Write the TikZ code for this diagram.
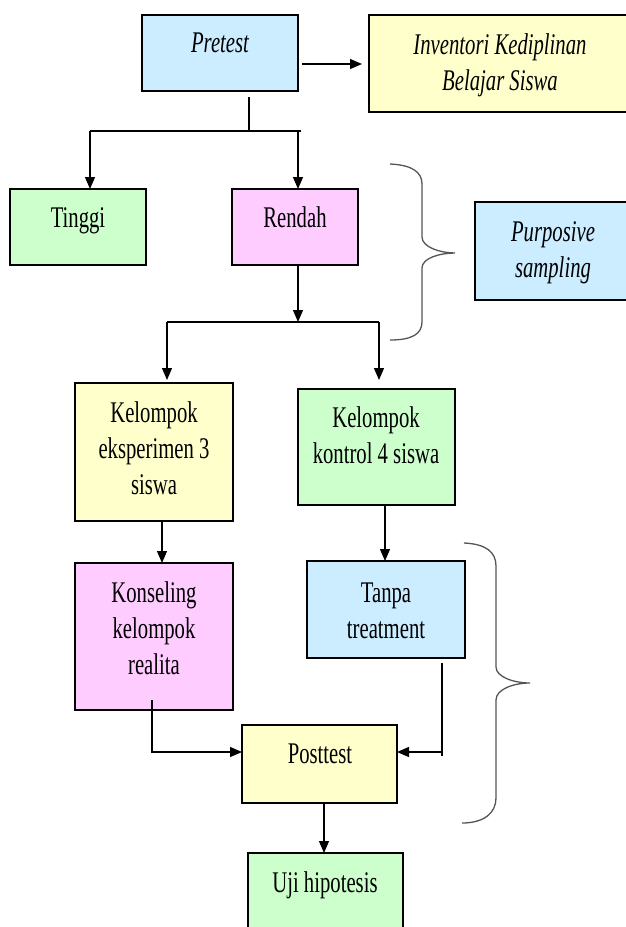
\documentclass[tikz,border=0pt]{standalone}
\usepackage{fontspec}
\setmainfont{Liberation Serif}[FakeStretch=0.69]
\usetikzlibrary{arrows.meta}
\definecolor{cblue}{HTML}{CCECFF}
\definecolor{cyellow}{HTML}{FFFFCC}
\definecolor{cgreen}{HTML}{CCFFCC}
\definecolor{cpink}{HTML}{FFCCFF}
\definecolor{bracegray}{HTML}{555555}
\begin{document}
\begin{tikzpicture}[x=1pt,y=-1pt,
  box/.style={draw=black, line width=1.2pt, inner sep=0pt, outer sep=0pt},
  txt/.style={font=\fontsize{30}{36}\selectfont, align=center, inner sep=0pt, anchor=base},
  itx/.style={txt, font=\fontsize{30}{36}\selectfont\itshape},
  conn/.style={line width=1.2pt},
  arr/.style={conn, -{Triangle[length=12pt,width=10pt]}},
  brace/.style={draw=bracegray, line width=1.3pt}]
\useasboundingbox (0,0) rectangle (626,927);
\fill[white] (0,0) rectangle (626,927);

% boxes
\node[box, fill=cblue,   minimum width=156pt, minimum height=76pt]  (pretest)    at (220,53)    {};
\node[box, fill=cyellow, minimum width=271pt, minimum height=97pt]  (inventori)  at (504.5,63.5) {};
\node[box, fill=cgreen,  minimum width=136pt, minimum height=76pt]  (tinggi)     at (78,227)    {};
\node[box, fill=cpink,   minimum width=126pt, minimum height=76pt]  (rendah)     at (295,227)   {};
\node[box, fill=cblue,   minimum width=165pt, minimum height=98pt]  (purposive)  at (557.5,251) {};
\node[box, fill=cyellow, minimum width=158pt, minimum height=138pt] (eksperimen) at (154,452)   {};
\node[box, fill=cgreen,  minimum width=157pt, minimum height=116pt] (kontrol)    at (376.5,447) {};
\node[box, fill=cpink,   minimum width=158pt, minimum height=147pt] (konseling)  at (154,636.5) {};
\node[box, fill=cblue,   minimum width=158pt, minimum height=97pt]  (tanpa)      at (386,609.5) {};
\node[box, fill=cyellow, minimum width=155pt, minimum height=78pt]  (posttest)   at (319.5,764) {};
\node[box, fill=cgreen,  minimum width=155pt, minimum height=87pt]  (uji)        at (325.5,896.5) {};

% texts (anchor = baseline of the last line)
\node[itx] (tpretest)   at (220,52)  {Pretest};
\node[itx] (tinventori) at (500,90)  {Inventori Kediplinan\\Belajar Siswa};
\node[txt] (ttinggi)    at (78,227)  {Tinggi};
\node[txt] (trendah)    at (295,227) {Rendah};
\node[itx] (tpurposive) at (553,277) {Purposive\\sampling};
\node[txt] (teksperimen) at (154,494) {Kelompok\\eksperimen 3\\siswa};
\node[txt] (tkontrol)   at (376,463) {Kelompok\\kontrol 4 siswa};
\node[txt] (tkonseling) at (154,674) {Konseling\\kelompok\\realita};
\node[txt] (ttanpa)     at (386,638) {Tanpa\\treatment};
\node[txt] (tposttest)  at (320,763) {Posttest};
\node[txt] (tuji)       at (325,892) {Uji hipotesis};

% junction coordinates
\coordinate (p1) at (249,97);
\coordinate (p2) at (249,131);
\coordinate (h1L) at (90,131);
\coordinate (h1R) at (298,131);
\coordinate (j2) at (298,322);
\coordinate (h2L) at (167,322);
\coordinate (h2R) at (379,322);

% connectors
\draw[arr, shorten <=4pt, shorten >=7pt] (pretest.east |- 0,64) -- (inventori.west |- 0,64);
\draw[conn] (p1) -- (p2);
\draw[conn] (h1L) -- ([xshift=3pt]h1R);
\draw[arr] (h1L) -- (h1L |- tinggi.north);
\draw[arr] (h1R) -- (h1R |- rendah.north);
\draw[arr] (j2 |- rendah.south) -- (j2);
\draw[conn] (h2L) -- (h2R);
\draw[arr, shorten >=3pt] (h2L) -- (h2L |- eksperimen.north);
\draw[arr, shorten >=9pt] (h2R) -- (h2R |- kontrol.north);
\draw[arr] ([xshift=8pt]eksperimen.south) -- ([xshift=8pt]eksperimen.south |- konseling.north);
\draw[arr] ([xshift=8.5pt]kontrol.south) -- ([xshift=8.5pt]kontrol.south |- tanpa.north);
\draw[arr] ([xshift=-2pt,yshift=10pt]konseling.south) |- ([yshift=12pt]posttest.west);
\draw[arr] ([xshift=56pt,yshift=-5pt]tanpa.south) |- ([yshift=12pt]posttest.east);
\draw[conn] ([xshift=56pt,yshift=-5pt]tanpa.south) -- ([xshift=56pt]tanpa.south |- 0,756);
\draw[arr] ([xshift=4.5pt]posttest.south) -- ([xshift=4.5pt]posttest.south |- uji.north);

% braces
\draw[brace] (390,164) .. controls (412,165) and (422,172) .. (422,184) -- (422,237)
  .. controls (422,247) and (440,253) .. (455,253)
  .. controls (440,253) and (422,258) .. (422,268) -- (422,322)
  .. controls (422,334) and (412,340) .. (390,340);
\draw[brace] (464,543) .. controls (486,544) and (496,552) .. (496,566) -- (496,667)
  .. controls (496,677) and (514,683) .. (530,683)
  .. controls (514,683) and (496,689) .. (496,700) -- (496,798)
  .. controls (496,813) and (484,823) .. (462,823);
\end{tikzpicture}
\end{document}
